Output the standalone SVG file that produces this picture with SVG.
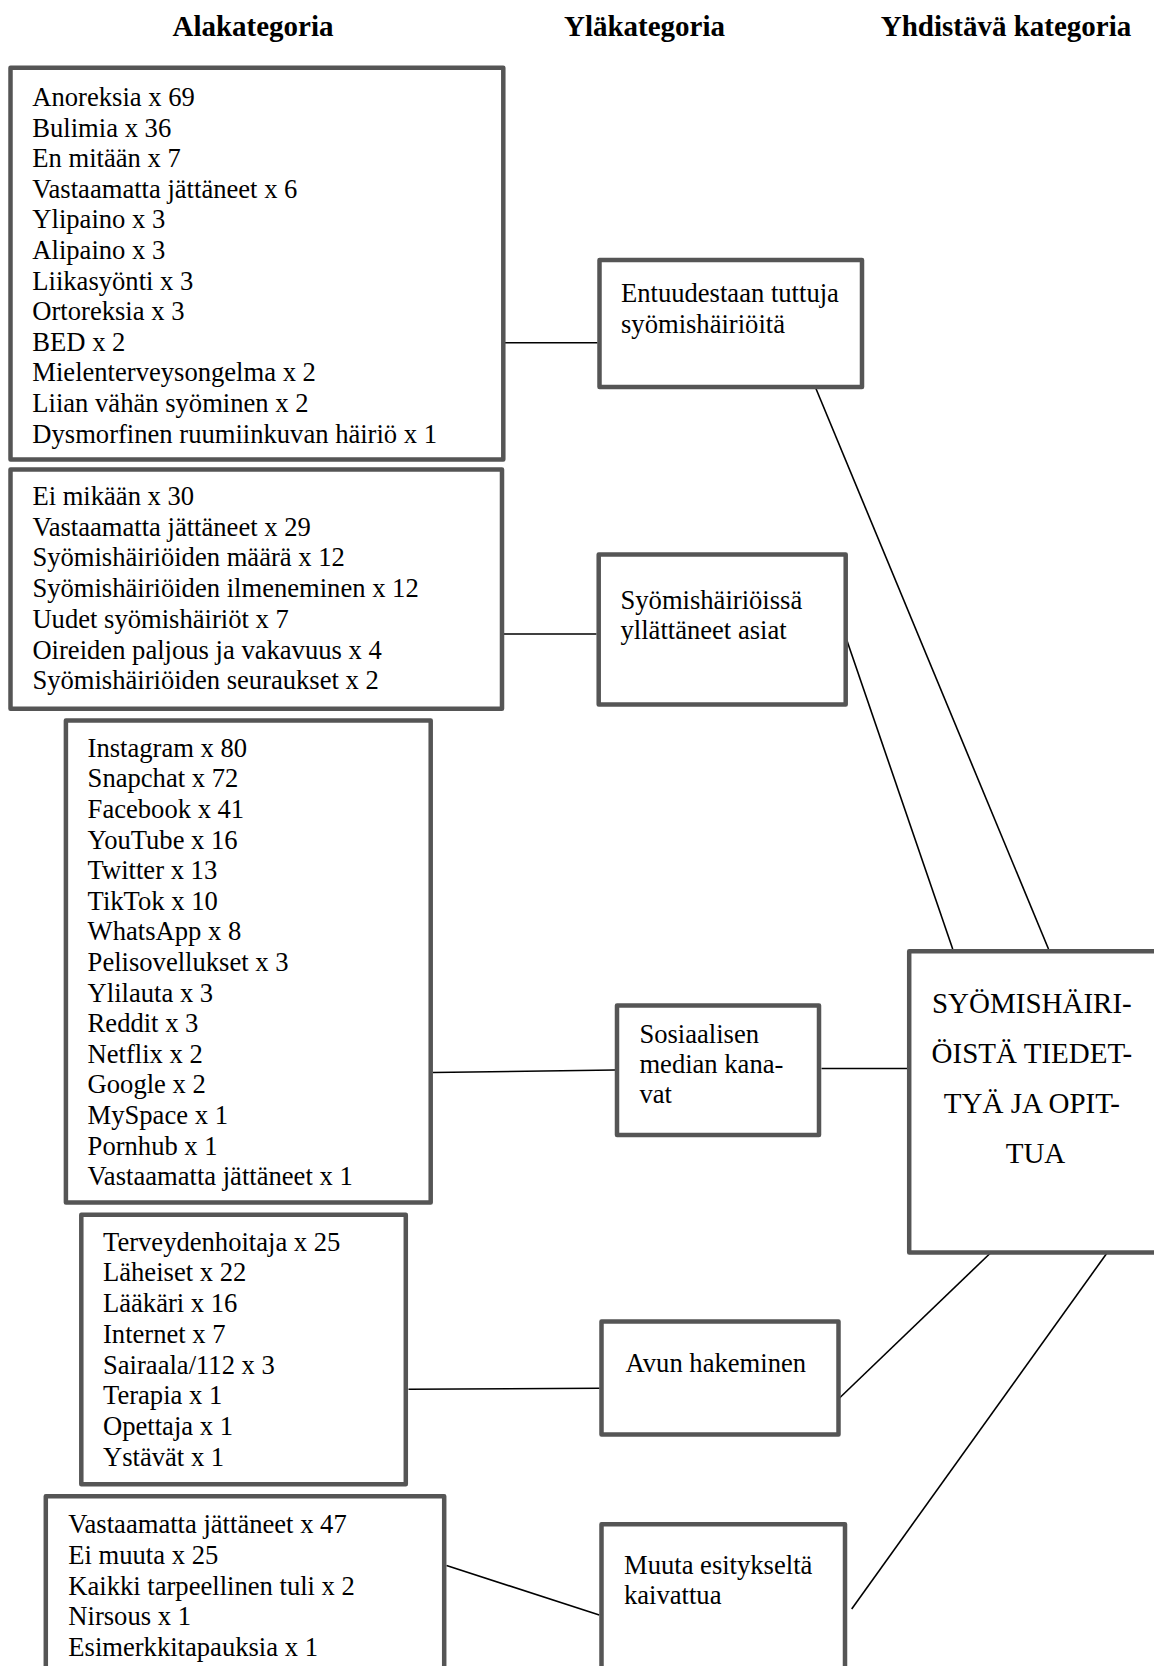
<svg xmlns="http://www.w3.org/2000/svg" width="1154" height="1666" viewBox="0 0 1154 1666">
<style>
.bg{fill:#ffffff}
.box{fill:#ffffff;stroke:#555555;stroke-width:4.5;stroke-linejoin:round}
.t{font-family:"Liberation Serif","Times New Roman",serif;font-size:26.6px;fill:#000000}
.h{font-family:"Liberation Serif","Times New Roman",serif;font-size:29px;font-weight:bold;fill:#000000;text-anchor:middle}
.big{font-family:"Liberation Serif","Times New Roman",serif;font-size:29px;fill:#000000;text-anchor:middle}
.c{stroke:#000000;stroke-width:1.6;fill:none}
</style>
<rect class="bg" x="0" y="0" width="1154" height="1666"/>
<g id="headers">
<text class="h" x="253" y="35.5">Alakategoria</text>
<text class="h" x="644.5" y="35.5">Yläkategoria</text>
<text class="h" x="1006" y="35.5">Yhdistävä kategoria</text>
</g>
<g id="connectors">
<line class="c" x1="505" y1="342.7" x2="597.5" y2="342.7"/>
<line class="c" x1="504" y1="634" x2="596.5" y2="634"/>
<line class="c" x1="433" y1="1072.5" x2="615" y2="1070"/>
<line class="c" x1="821.5" y1="1068.5" x2="907" y2="1068.5"/>
<line class="c" x1="408.5" y1="1389.3" x2="599.5" y2="1388.3"/>
<line class="c" x1="446.5" y1="1565.5" x2="599.3" y2="1615"/>
<line class="c" x1="815.7" y1="388" x2="1048.5" y2="949"/>
<line class="c" x1="844.7" y1="634" x2="952.7" y2="949"/>
<line class="c" x1="839.5" y1="1398" x2="991.5" y2="1252"/>
<line class="c" x1="851.7" y1="1609" x2="1107.7" y2="1252"/>
</g>
<g id="box1">
<rect class="box" x="10.5" y="67.8" width="492.8" height="391.7"/>
<text class="t">
<tspan x="32.3" y="106">Anoreksia x 69</tspan>
<tspan x="32.3" dy="30.6">Bulimia x 36</tspan>
<tspan x="32.3" dy="30.6">En mitään x 7</tspan>
<tspan x="32.3" dy="30.6">Vastaamatta jättäneet x 6</tspan>
<tspan x="32.3" dy="30.6">Ylipaino x 3</tspan>
<tspan x="32.3" dy="30.6">Alipaino x 3</tspan>
<tspan x="32.3" dy="30.6">Liikasyönti x 3</tspan>
<tspan x="32.3" dy="30.6">Ortoreksia x 3</tspan>
<tspan x="32.3" dy="30.6">BED x 2</tspan>
<tspan x="32.3" dy="30.6">Mielenterveysongelma x 2</tspan>
<tspan x="32.3" dy="30.6">Liian vähän syöminen x 2</tspan>
<tspan x="32.3" dy="30.6">Dysmorfinen ruumiinkuvan häiriö x 1</tspan>
</text>
</g>
<g id="box2">
<rect class="box" x="10.5" y="469.5" width="491.5" height="239.2"/>
<text class="t">
<tspan x="32.4" y="505">Ei mikään x 30</tspan>
<tspan x="32.4" dy="30.7">Vastaamatta jättäneet x 29</tspan>
<tspan x="32.4" dy="30.7">Syömishäiriöiden määrä x 12</tspan>
<tspan x="32.4" dy="30.7">Syömishäiriöiden ilmeneminen x 12</tspan>
<tspan x="32.4" dy="30.7">Uudet syömishäiriöt x 7</tspan>
<tspan x="32.4" dy="30.7">Oireiden paljous ja vakavuus x 4</tspan>
<tspan x="32.4" dy="30.7">Syömishäiriöiden seuraukset x 2</tspan>
</text>
</g>
<g id="box3">
<rect class="box" x="65.9" y="720.5" width="364.8" height="482"/>
<text class="t">
<tspan x="87.6" y="756.7">Instagram x 80</tspan>
<tspan x="87.6" dy="30.6">Snapchat x 72</tspan>
<tspan x="87.6" dy="30.6">Facebook x 41</tspan>
<tspan x="87.6" dy="30.6">YouTube x 16</tspan>
<tspan x="87.6" dy="30.6">Twitter x 13</tspan>
<tspan x="87.6" dy="30.6">TikTok x 10</tspan>
<tspan x="87.6" dy="30.6">WhatsApp x 8</tspan>
<tspan x="87.6" dy="30.6">Pelisovellukset x 3</tspan>
<tspan x="87.6" dy="30.6">Ylilauta x 3</tspan>
<tspan x="87.6" dy="30.6">Reddit x 3</tspan>
<tspan x="87.6" dy="30.6">Netflix x 2</tspan>
<tspan x="87.6" dy="30.6">Google x 2</tspan>
<tspan x="87.6" dy="30.6">MySpace x 1</tspan>
<tspan x="87.6" dy="30.6">Pornhub x 1</tspan>
<tspan x="87.6" dy="30.6">Vastaamatta jättäneet x 1</tspan>
</text>
</g>
<g id="box4">
<rect class="box" x="81.3" y="1214.7" width="324.5" height="269.5"/>
<text class="t">
<tspan x="103" y="1250.7">Terveydenhoitaja x 25</tspan>
<tspan x="103" dy="30.7">Läheiset x 22</tspan>
<tspan x="103" dy="30.7">Lääkäri x 16</tspan>
<tspan x="103" dy="30.7">Internet x 7</tspan>
<tspan x="103" dy="30.7">Sairaala/112 x 3</tspan>
<tspan x="103" dy="30.7">Terapia x 1</tspan>
<tspan x="103" dy="30.7">Opettaja x 1</tspan>
<tspan x="103" dy="30.7">Ystävät x 1</tspan>
</text>
</g>
<g id="box5">
<rect class="box" x="45.8" y="1496.2" width="398.4" height="190"/>
<text class="t">
<tspan x="68.3" y="1533.3">Vastaamatta jättäneet x 47</tspan>
<tspan x="68.3" dy="30.6">Ei muuta x 25</tspan>
<tspan x="68.3" dy="30.6">Kaikki tarpeellinen tuli x 2</tspan>
<tspan x="68.3" dy="30.6">Nirsous x 1</tspan>
<tspan x="68.3" dy="30.6">Esimerkkitapauksia x 1</tspan>
</text>
</g>
<g id="nodeA">
<rect class="box" x="599.5" y="260" width="262.5" height="127"/>
<text class="t">
<tspan x="621" y="301.7">Entuudestaan tuttuja</tspan>
<tspan x="621" dy="30.8">syömishäiriöitä</tspan>
</text>
</g>
<g id="nodeB">
<rect class="box" x="598.7" y="554.5" width="247" height="150"/>
<text class="t">
<tspan x="620.5" y="608.5">Syömishäiriöissä</tspan>
<tspan x="620.5" dy="30">yllättäneet asiat</tspan>
</text>
</g>
<g id="nodeC">
<rect class="box" x="617" y="1005.6" width="202" height="129.5"/>
<text class="t">
<tspan x="639.4" y="1042.8">Sosiaalisen</tspan>
<tspan x="639.4" dy="29.9">median kana-</tspan>
<tspan x="639.4" dy="29.9">vat</tspan>
</text>
</g>
<g id="nodeE">
<rect class="box" x="601.5" y="1321.5" width="237" height="113"/>
<text class="t" x="625.6" y="1371.7">Avun hakeminen</text>
</g>
<g id="nodeF">
<rect class="box" x="601.5" y="1524.2" width="243.5" height="170"/>
<text class="t">
<tspan x="624" y="1574.3">Muuta esitykseltä</tspan>
<tspan x="624" dy="30">kaivattua</tspan>
</text>
</g>
<g id="nodeD">
<rect class="box" x="909.2" y="951.3" width="253" height="301.2"/>
<text class="big">
<tspan x="1035.5" y="1013.3">SYÖMISHÄIRI-</tspan>
<tspan x="1035.5" dy="50">ÖISTÄ TIEDET-</tspan>
<tspan x="1035.5" dy="50">TYÄ JA OPIT-</tspan>
<tspan x="1035.5" dy="50">TUA</tspan>
</text>
</g>
</svg>
